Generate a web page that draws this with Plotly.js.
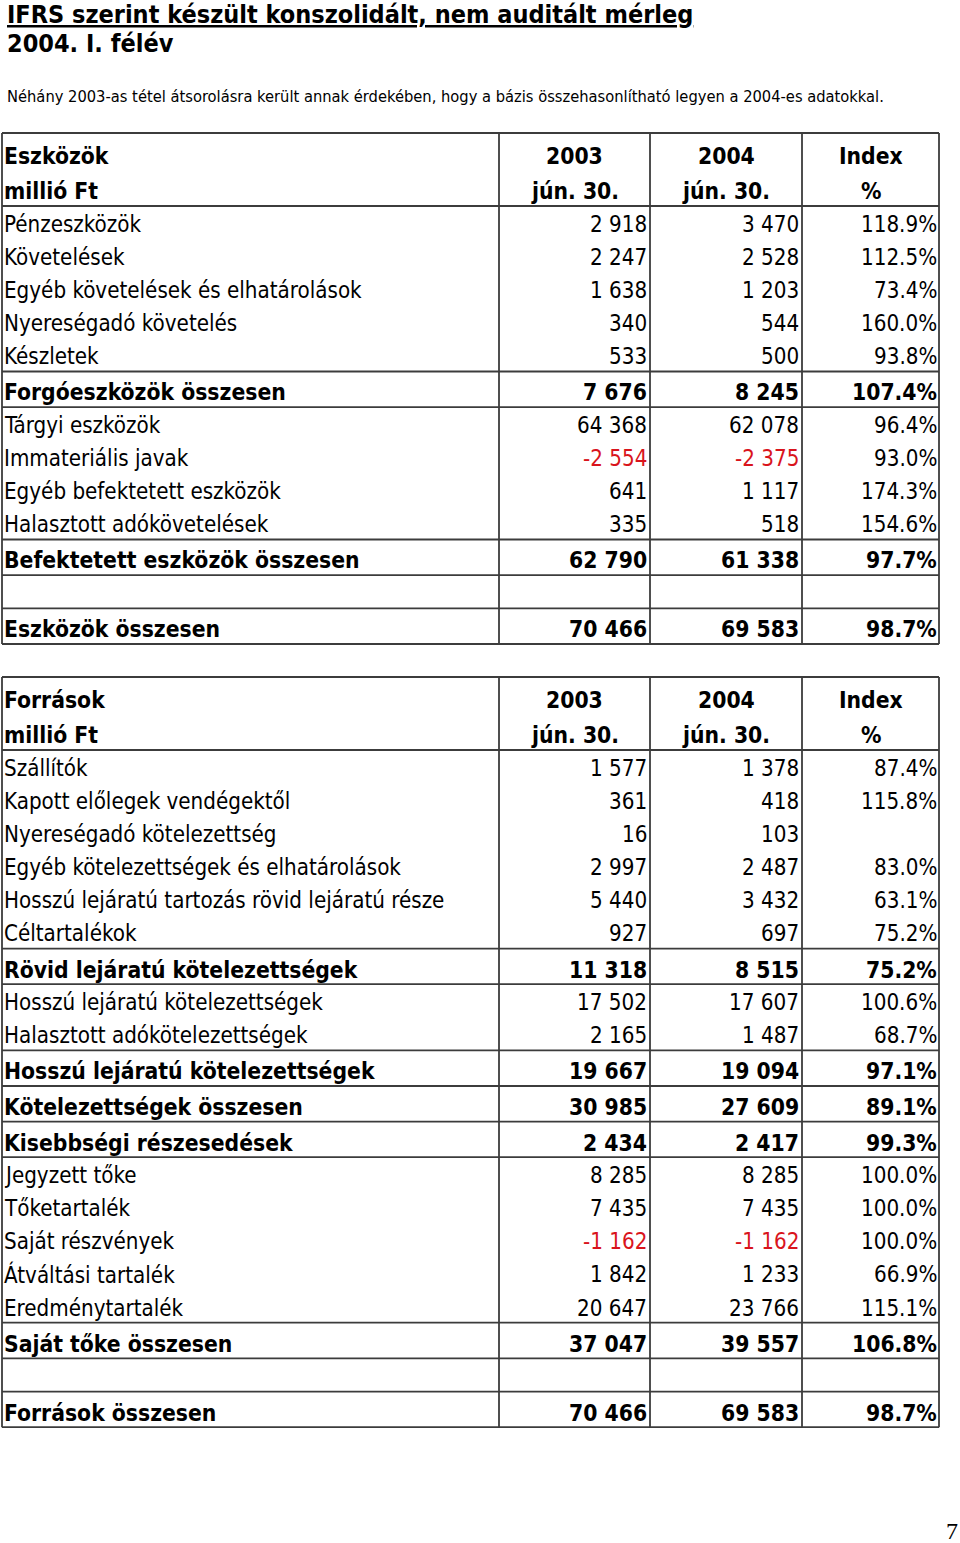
<!DOCTYPE html>
<html>
<head>
<meta charset="utf-8">
<script src="https://cdn.plot.ly/plotly-3.0.1.min.js"></script>
<style>html,body{margin:0;padding:0;background:#fff;}#chart{width:960px;height:1543px;}</style>
</head>
<body>
<div id="chart"></div>
<script>
// ---------- DATA ----------
const titleLine1 = "IFRS szerint készült konszolidált, nem auditált mérleg";
const titleLine2 = "2004. I. félév";
const subtitle = "Néhány 2003-as tétel átsorolásra került annak érdekében, hogy a bázis összehasonlítható legyen a 2004-es adatokkal.";
const pageNumber = "7";

const assetsHeader = ["Eszközök", "millió Ft"];
const forrasHeader = ["Források", "millió Ft"];
const colHeadLine1 = ["2003", "2004", "Index"];
const colHeadLine2 = ["jún. 30.", "jún. 30.", "%"];

// row type: n = normal, b = bold total, e = empty
const assetLabels = ["Pénzeszközök", "Követelések", "Egyéb követelések és elhatárolások", "Nyereségadó követelés", "Készletek",
  "Forgóeszközök összesen", "Tárgyi eszközök", "Immateriális javak", "Egyéb befektetett eszközök", "Halasztott adókövetelések",
  "Befektetett eszközök összesen", "", "Eszközök összesen"];
const assetTypes = ["n","n","n","n","n","b","n","n","n","n","b","e","b"];
const assets2003 = [2918, 2247, 1638, 340, 533, 7676, 64368, -2554, 641, 335, 62790, null, 70466];
const assets2004 = [3470, 2528, 1203, 544, 500, 8245, 62078, -2375, 1117, 518, 61338, null, 69583];
const assetsIndex = [118.9, 112.5, 73.4, 160.0, 93.8, 107.4, 96.4, 93.0, 174.3, 154.6, 97.7, null, 98.7];

const forrasLabels = ["Szállítók", "Kapott előlegek vendégektől", "Nyereségadó kötelezettség", "Egyéb kötelezettségek és elhatárolások",
  "Hosszú lejáratú tartozás rövid lejáratú része", "Céltartalékok", "Rövid lejáratú kötelezettségek",
  "Hosszú lejáratú kötelezettségek", "Halasztott adókötelezettségek", "Hosszú lejáratú kötelezettségek",
  "Kötelezettségek összesen", "Kisebbségi részesedések", "Jegyzett tőke", "Tőketartalék", "Saját részvények",
  "Átváltási tartalék", "Eredménytartalék", "Saját tőke összesen", "", "Források összesen"];
const forrasTypes = ["n","n","n","n","n","n","b","n","n","b","b","b","n","n","n","n","n","b","e","b"];
const forras2003 = [1577, 361, 16, 2997, 5440, 927, 11318, 17502, 2165, 19667, 30985, 2434, 8285, 7435, -1162, 1842, 20647, 37047, null, 70466];
const forras2004 = [1378, 418, 103, 2487, 3432, 697, 8515, 17607, 1487, 19094, 27609, 2417, 8285, 7435, -1162, 1233, 23766, 39557, null, 69583];
const forrasIndex = [87.4, 115.8, null, 83.0, 63.1, 75.2, 75.2, 100.6, 68.7, 97.1, 89.1, 99.3, 100.0, 100.0, 100.0, 66.9, 115.1, 106.8, null, 98.7];

// ---------- STYLE / LAYOUT CONSTANTS ----------
const FONT = "'DejaVu Sans Condensed', 'DejaVu Sans', Tahoma, sans-serif";
const FS = 22.2;
const FSB = 22.7;
const BLACK = "#000000";
const RED = "#d9141c";
const LINE = "#3c3c3c";
const LW = 1.8;
const colEdges = [2, 499, 650, 802, 939];
const HEADER_H = 36.5;
const ROW_H = {n: 33.1, b: 35.6, e: 33.3};
const BASE_OFF = {n: 7.5, b: 6.8, e: 0};

function fmtNum(v) {
  if (v === null || v === undefined) return "";
  const neg = v < 0;
  const s = Math.abs(v).toString().replace(/\B(?=(\d{3})+(?!\d))/g, " ");
  return (neg ? "-" : "") + s;
}
function fmtPct(v) {
  if (v === null || v === undefined) return "";
  return v.toFixed(1) + "%";
}

const annotations = [];
const shapes = [];

// baseline-based placement: middle of text box sits 0.346em above baseline
function txt(x, base, text, anchor, bold, color, size, family) {
  const s = size || (bold ? FSB : FS);
  annotations.push({
    x: x, y: base - 0.346 * s, xref: "x", yref: "y", text: bold ? "<b>" + text + "</b>" : text,
    showarrow: false, xanchor: anchor, yanchor: "middle",
    font: {family: family || FONT, size: s, color: color || BLACK},
    borderpad: 0
  });
}
function hline(y, x0, x1) {
  shapes.push({type: "line", xref: "x", yref: "y", x0: x0, x1: x1, y0: y, y1: y, line: {color: LINE, width: LW}});
}
function vline(x, y0, y1) {
  shapes.push({type: "line", xref: "x", yref: "y", x0: x, x1: x, y0: y0, y1: y1, line: {color: LINE, width: LW}});
}

function buildTable(top, head, labels, types, v1, v2, idx) {
  const hb1 = top + 31, hb2 = top + 2 * HEADER_H - 7;
  txt(colEdges[0] + 1, hb1, head[0], "left", true);
  txt(colEdges[0] + 1, hb2, head[1], "left", true);
  for (let c = 0; c < 3; c++) {
    const cx = (colEdges[c + 1] + colEdges[c + 2]) / 2;
    txt(cx, hb1, colHeadLine1[c], "center", true);
    txt(cx, hb2, colHeadLine2[c], "center", true);
  }
  hline(top, colEdges[0], colEdges[4]);
  let y = top + 2 * HEADER_H;
  hline(y, colEdges[0], colEdges[4]);
  let prevType = "n";
  for (let i = 0; i < labels.length; i++) {
    const t = types[i];
    const bottom = y + ROW_H[t];
    if ((t === "b" || t === "e") && prevType === "n") hline(y, colEdges[0], colEdges[4]);
    if (t === "b" || t === "e" || i === labels.length - 1) hline(bottom, colEdges[0], colEdges[4]);
    if (t !== "e") {
      const bold = t === "b";
      const base = bottom - BASE_OFF[t];
      txt(colEdges[0] + 1, base, labels[i], "left", bold);
      const vals = [v1[i], v2[i]];
      for (let c = 0; c < 2; c++) {
        if (vals[c] !== null) txt(colEdges[c + 2] - 2, base, fmtNum(vals[c]), "right", bold, vals[c] < 0 ? RED : BLACK);
      }
      if (idx[i] !== null) txt(colEdges[4] - 1, base, fmtPct(idx[i]), "right", bold);
    }
    y = bottom;
    prevType = t;
  }
  for (const x of colEdges) vline(x, top, y);
  return y;
}

const t1Bottom = buildTable(133, assetsHeader, assetLabels, assetTypes, assets2003, assets2004, assetsIndex);
buildTable(t1Bottom + 33, forrasHeader, forrasLabels, forrasTypes, forras2003, forras2004, forrasIndex);

// titles
annotations.push({x: 5, y: 14.8, xref: "x", yref: "y", showarrow: false, xanchor: "left", yanchor: "middle",
  text: "<b><span style='text-decoration:underline'>" + titleLine1 + "</span></b>",
  font: {family: FONT, size: 25, color: BLACK}});
annotations.push({x: 5, y: 43, xref: "x", yref: "y", showarrow: false, xanchor: "left", yanchor: "middle",
  text: "<b>" + titleLine2 + "</b>", font: {family: FONT, size: 25, color: BLACK}});
annotations.push({x: 5, y: 96, xref: "x", yref: "y", showarrow: false, xanchor: "left", yanchor: "middle",
  text: subtitle, font: {family: FONT, size: 16.35, color: BLACK}});
annotations.push({x: 952, y: 1531, xref: "x", yref: "y", showarrow: false, xanchor: "center", yanchor: "middle",
  text: pageNumber, font: {family: "'Liberation Serif', 'DejaVu Serif', serif", size: 24, color: BLACK}});

const layout = {
  width: 960, height: 1543,
  margin: {l: 0, r: 0, t: 0, b: 0, pad: 0},
  paper_bgcolor: "#ffffff", plot_bgcolor: "#ffffff",
  xaxis: {range: [0, 960], visible: false, fixedrange: true},
  yaxis: {range: [1543, 0], visible: false, fixedrange: true},
  showlegend: false,
  annotations: annotations,
  shapes: shapes
};
Plotly.newPlot("chart", [{x: [], y: [], type: "scatter", mode: "markers", hoverinfo: "skip"}], layout, {staticPlot: true, displayModeBar: false});
</script>
</body>
</html>
